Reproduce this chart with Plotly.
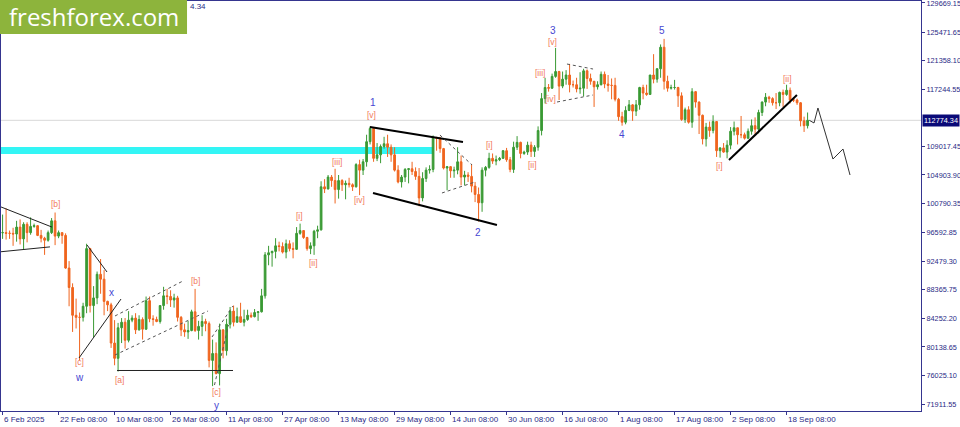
import pandas as pd
import plotly.graph_objects as go

# ---------------- DATA ----------------
first_open = 96600
current_price = 112774.34

# daily candles, 6 Feb 2025 .. 24 Sep 2025
close_feb = [96600, 96500, 96500, 96400, 97400, 95700, 97800, 96600, 97500, 97600, 96200, 95800, 95500, 96600, 98300, 96100, 96600, 96200, 91500, 88700, 84700, 84400, 84400]
high_feb = [99200, 100100, 96900, 97300, 98300, 98500, 98100, 98100, 98800, 97900, 97700, 97000, 96000, 96900, 98700, 99500, 96900, 96500, 96500, 92500, 89300, 87100, 85100]
low_feb = [95700, 95600, 95700, 94700, 95300, 94900, 94100, 95200, 96300, 97300, 96100, 95200, 93400, 95300, 96400, 94800, 95800, 95000, 91400, 86000, 82300, 82800, 78200]

close_mar = [86000, 94300, 86100, 87200, 90600, 89900, 86700, 86200, 80700, 78500, 82900, 83700, 81100, 84000, 84300, 82600, 84100, 82700, 86800, 84200, 84100, 83800, 86100, 87500, 87400, 86900, 87200, 84400, 82600, 82300, 82500]
high_mar = [86500, 95000, 94400, 88900, 91000, 92800, 91200, 86800, 86500, 84000, 83600, 84300, 84300, 85300, 84700, 85000, 84700, 84400, 87400, 87400, 84700, 84500, 86100, 88800, 88500, 88300, 87800, 87500, 84600, 83500, 83900]
low_mar = [83800, 85000, 85100, 81500, 86300, 87800, 84700, 85300, 80000, 77500, 76600, 80700, 79900, 80800, 83700, 82000, 82500, 81200, 82600, 83700, 83200, 83700, 83500, 85500, 86300, 85900, 85800, 83800, 81700, 81600, 81300]

close_apr = [85200, 82500, 83100, 83800, 83500, 78200, 79200, 76300, 82600, 79600, 83400, 85300, 83700, 84500, 83700, 84100, 84700, 84500, 85100, 85200, 87500, 93400, 93700, 93900, 94700, 94600, 93800, 95000, 94300, 94200]
high_apr = [85500, 88500, 83900, 84700, 84200, 83800, 81200, 80800, 83500, 82700, 84200, 85900, 86100, 85800, 86500, 85500, 85500, 85100, 85600, 85300, 88500, 93800, 94700, 94000, 95800, 95300, 95200, 95600, 95500, 95200]
low_apr = [82400, 82300, 81200, 81700, 82400, 77200, 74500, 76200, 74600, 78500, 78900, 82800, 83100, 83900, 83600, 83100, 83900, 84300, 84400, 83900, 85100, 87100, 91900, 91700, 92900, 93900, 93600, 92900, 93900, 92900]

close_may = [96500, 96900, 95900, 94300, 94700, 96800, 97000, 103200, 102900, 104600, 104100, 102800, 104100, 103500, 103700, 103500, 103200, 106400, 105600, 106800, 109700, 111600, 107300, 107800, 109000, 109400, 108900, 107800, 105600, 103900, 104600]
high_may = [97400, 97900, 96900, 96000, 95200, 97000, 97600, 104000, 104300, 104900, 104900, 105800, 104900, 104300, 104100, 104500, 103700, 106600, 107100, 107200, 110700, 111900, 111700, 109500, 109300, 110400, 110700, 109300, 108900, 106300, 104900]
low_may = [94100, 96300, 95700, 94000, 93500, 93400, 95800, 96900, 102300, 102800, 103200, 100800, 101500, 102600, 101400, 103100, 102600, 103100, 102000, 104900, 106100, 109300, 106800, 106900, 106600, 108700, 107500, 106800, 105400, 103700, 103100]

close_jun = [105700, 105800, 105400, 104700, 101600, 104400, 105600, 105700, 110300, 110200, 108700, 105900, 106100, 105500, 105600, 106800, 104600, 104900, 104700, 103300, 102100, 100900, 105600, 106000, 107300, 106900, 107100, 107300, 108400, 107100]
high_jun = [105900, 105900, 106800, 106000, 105900, 105300, 106000, 106300, 110600, 110400, 110400, 108800, 106200, 106200, 106100, 108900, 107700, 105500, 105300, 106500, 103900, 103100, 106000, 106200, 108100, 108000, 107700, 107500, 108500, 108800]
low_jun = [103900, 103700, 104900, 104200, 100400, 101100, 103900, 105100, 105300, 108400, 108100, 105700, 102700, 104500, 104500, 105000, 103400, 103400, 103900, 102400, 101000, 98200, 99600, 104700, 105800, 106500, 106300, 106900, 107200, 106800]

close_jul = [105700, 108900, 109600, 108000, 108200, 109200, 108300, 108900, 111300, 115900, 117500, 117400, 119100, 119800, 117700, 118700, 119300, 117900, 117900, 117300, 117400, 119900, 118800, 118400, 117600, 117900, 119400, 118000, 117800, 117800, 115800]
high_jul = [107500, 109700, 110500, 109700, 108400, 109700, 109700, 109200, 111900, 116700, 118900, 118000, 119500, 123200, 119900, 119800, 120000, 120900, 118500, 118900, 119700, 120200, 120100, 119500, 118300, 118400, 119800, 119800, 119300, 118800, 118900]
low_jul = [105300, 105200, 108500, 107300, 107800, 107800, 107500, 107500, 108400, 110600, 115200, 116900, 117300, 118900, 115700, 117400, 117900, 116800, 117500, 116800, 116600, 116200, 117300, 117900, 114700, 117200, 117800, 117400, 116900, 115800, 115500]

close_aug = [113300, 112500, 114200, 115000, 114100, 115000, 117500, 116700, 116500, 119300, 118700, 120200, 123300, 118400, 117400, 117500, 117500, 116300, 112900, 114300, 112500, 116900, 115400, 113500, 110100, 111800, 111300, 112600, 108400, 108800, 108200]
high_aug = [116000, 114000, 114800, 115700, 115100, 115700, 117600, 117900, 117900, 119300, 122300, 120300, 123700, 124500, 119200, 117900, 118600, 117600, 116800, 114600, 114800, 117400, 117000, 115500, 113600, 112400, 112600, 113500, 112600, 108900, 109500]
low_aug = [112700, 112000, 112200, 114100, 112700, 113400, 114300, 115800, 116300, 116500, 118100, 118200, 118900, 117200, 116900, 117200, 117200, 114700, 112700, 112400, 112300, 111700, 114600, 110800, 109300, 109000, 110400, 110900, 107500, 107400, 108100]

close_sep = [109200, 111200, 111700, 110700, 110700, 110200, 111200, 112000, 111500, 113900, 115400, 116100, 115900, 115300, 115300, 116800, 116500, 117100, 115700, 115700, 115300, 112700, 112000, 112774]
high_sep = [109900, 111800, 112600, 111700, 113400, 111000, 111600, 112900, 113200, 114300, 115500, 116700, 116300, 116100, 116700, 116900, 117200, 117900, 117500, 116100, 115900, 115400, 113300, 113900]
low_sep = [107300, 108600, 110600, 109300, 110200, 110000, 110100, 110700, 110800, 110900, 113400, 114800, 115300, 114900, 114400, 114800, 114700, 116300, 115200, 115400, 115000, 111900, 111100, 111600]

closes = close_feb + close_mar + close_apr + close_may + close_jun + close_jul + close_aug + close_sep
highs = high_feb + high_mar + high_apr + high_may + high_jun + high_jul + high_aug + high_sep
lows = low_feb + low_mar + low_apr + low_may + low_jun + low_jul + low_aug + low_sep
opens = [first_open] + closes[:-1]
dates = pd.date_range("2025-02-06 12:00", periods=len(closes), freq="D")

# forecast path
forecast_dates = ["2025-09-25 00:00", "2025-09-26 08:00", "2025-09-27 11:00", "2025-10-01 18:00", "2025-10-04 15:00", "2025-10-06 15:00"]
forecast_prices = [112774, 112390, 114550, 107200, 108640, 104900]

# trend lines (date pairs, price pairs)
thin_lines = [
    (["2025-02-06 01:00", "2025-02-20 15:00"], [100300, 97400]),
    (["2025-02-06 01:00", "2025-02-20 01:00"], [93850, 94550]),
    (["2025-03-02 15:00", "2025-03-08 08:00"], [94820, 90930]),
    (["2025-02-28 08:00", "2025-03-12 08:00"], [78550, 87040]),
    (["2025-03-11 05:00", "2025-04-13 08:00"], [76750, 76750]),
]
thick_lines = [
    (["2025-05-22 11:00", "2025-06-18 01:00"], [111810, 109650]),
    (["2025-05-23 08:00", "2025-06-27 18:00"], [102310, 97700]),
    (["2025-09-02 01:00", "2025-09-21 11:00"], [107060, 116420]),
]
dotted_lines = [
    (["2025-03-10 15:00", "2025-03-30 01:00"], [84600, 89640]),
    (["2025-03-10 15:00", "2025-04-06 05:00"], [78980, 85320]),
    (["2025-04-07 08:00", "2025-04-13 08:00"], [81570, 86040]),
    (["2025-04-08 01:00", "2025-04-12 01:00"], [74660, 83300]),
    (["2025-06-11 11:00", "2025-06-20 15:00"], [110660, 106340]),
    (["2025-06-12 01:00", "2025-06-21 11:00"], [102310, 103890]),
    (["2025-07-17 18:00", "2025-07-25 05:00"], [120880, 120160]),
    (["2025-07-14 22:00", "2025-07-25 05:00"], [115410, 116420]),
]

zone_start = "2025-02-06 01:09"
zone_end = "2025-06-09 18:00"
zone_low, zone_high = 107924, 108932

blue_labels = [
    ("w", "2025-02-28 11:00", 75670), ("x", "2025-03-09 18:00", 87910),
    ("y", "2025-04-08 18:00", 71640), ("1", "2025-05-23 08:00", 115270),
    ("2", "2025-06-22 08:00", 96690), ("3", "2025-07-13 18:00", 125780),
    ("4", "2025-08-02 11:00", 110800), ("5", "2025-08-13 22:00", 125780),
]
bracket_labels = [
    ("[b]", "2025-02-21 18:00", 100720), ("[c]", "2025-02-28 08:00", 77970),
    ("[a]", "2025-03-11 22:00", 75380), ("[b]", "2025-04-02 18:00", 89640),
    ("[c]", "2025-04-08 15:00", 73650), ("[i]", "2025-05-02 05:00", 99000),
    ("[ii]", "2025-05-06 05:00", 92230), ("[iii]", "2025-05-12 22:00", 106770),
    ("[iv]", "2025-05-19 08:00", 101300), ("[v]", "2025-05-23 01:00", 113540),
    ("[i]", "2025-06-25 18:00", 109220), ("[ii]", "2025-07-08 01:00", 106340),
    ("[iii]", "2025-07-10 01:00", 119590), ("[iv]", "2025-07-12 22:00", 115840),
    ("[v]", "2025-07-13 18:00", 124050), ("[i]", "2025-08-30 05:00", 106200),
    ("[ii]", "2025-09-18 15:00", 118720),
]

y_tick_values = [129669.15, 125471.65, 121358.10, 117244.55, 109017.45, 104903.90, 100790.35,
                 96592.85, 92479.30, 88365.75, 84252.20, 80138.65, 76025.10, 71911.55]
x_tick_dates = ["2025-02-06 08:00", "2025-02-22 08:00", "2025-03-10 08:00", "2025-03-26 08:00",
                "2025-04-11 08:00", "2025-04-27 08:00", "2025-05-13 08:00", "2025-05-29 08:00",
                "2025-06-14 08:00", "2025-06-30 08:00", "2025-07-16 08:00", "2025-08-01 08:00",
                "2025-08-17 08:00", "2025-09-02 08:00", "2025-09-18 08:00"]
x_tick_labels = ["6 Feb 2025", "22 Feb 08:00", "10 Mar 08:00", "26 Mar 08:00", "11 Apr 08:00",
                 "27 Apr 08:00", "13 May 08:00", "29 May 08:00", "14 Jun 08:00", "30 Jun 08:00",
                 "16 Jul 08:00", "1 Aug 08:00", "17 Aug 08:00", "2 Sep 08:00", "18 Sep 08:00"]

# ---------------- STYLE ----------------
NAVY = "#35358f"
TXT = "#2a2a86"
FONT = "Liberation Sans"

fig = go.Figure()
fig.add_trace(go.Candlestick(
    x=dates, open=opens, high=highs, low=lows, close=closes,
    increasing=dict(line=dict(color="#3a9a34", width=1), fillcolor="#3a9a34"),
    decreasing=dict(line=dict(color="#f0641e", width=1), fillcolor="#f0641e"),
    whiskerwidth=0, showlegend=False, hoverinfo="skip"))

for xs, ys in thin_lines:
    fig.add_trace(go.Scatter(x=xs, y=ys, mode="lines", line=dict(color="#222222", width=1),
                             showlegend=False, hoverinfo="skip"))
for xs, ys in thick_lines:
    fig.add_trace(go.Scatter(x=xs, y=ys, mode="lines", line=dict(color="#000000", width=2),
                             showlegend=False, hoverinfo="skip"))
for xs, ys in dotted_lines:
    fig.add_trace(go.Scatter(x=xs, y=ys, mode="lines", line=dict(color="#555555", width=1, dash="dot"),
                             showlegend=False, hoverinfo="skip"))
fig.add_trace(go.Scatter(x=forecast_dates, y=forecast_prices, mode="lines",
                         line=dict(color="#333333", width=1), showlegend=False, hoverinfo="skip"))

shapes = [
    dict(type="rect", xref="x", x0=zone_start, x1=zone_end, yref="y", y0=zone_low, y1=zone_high,
         fillcolor="#33f5f5", line=dict(width=0), layer="below"),
    dict(type="line", xref="paper", x0=0, x1=1, yref="y", y0=current_price, y1=current_price,
         line=dict(color="#d8d8d8", width=1), layer="below"),
    dict(type="rect", xref="paper", x0=-0.0011, x1=0.2022, yref="paper", y0=0.9195, y1=1.0025,
         fillcolor="#8db43c", line=dict(width=0), layer="above"),
]

annotations = []
for t, d, p in blue_labels:
    annotations.append(dict(x=d, y=p, xref="x", yref="y", text=t, showarrow=False,
                            xanchor="center", yanchor="middle",
                            font=dict(family=FONT, size=10, color="#4646d2")))
for t, d, p in bracket_labels:
    annotations.append(dict(x=d, y=p, xref="x", yref="y", text=t, showarrow=False,
                            xanchor="center", yanchor="middle",
                            font=dict(family=FONT, size=8.5, color="#f27a60")))
for d, t in zip(x_tick_dates, x_tick_labels):
    annotations.append(dict(x=d, y=0, xref="x", yref="paper", text=t, showarrow=False,
                            xanchor="left", yanchor="top", yshift=-2, xshift=0,
                            font=dict(family=FONT, size=8, color=TXT)))
annotations.append(dict(x=1, y=current_price, xref="paper", yref="y", text=f"{current_price:.2f}",
                        showarrow=False, xanchor="left", yanchor="middle", xshift=1,
                        bgcolor="#0a0a78", borderpad=1,
                        font=dict(family=FONT, size=7.3, color="#ffffff")))
annotations.append(dict(x=0.1011, y=0.961, xref="paper", yref="paper", text="freshforex.com",
                        showarrow=False, xanchor="center", yanchor="middle",
                        font=dict(family="Open Sans", size=24, color="#ffffff")))
annotations.append(dict(x=0.2033, y=0.9878, xref="paper", yref="paper", text="4.34",
                        showarrow=False, xanchor="left", yanchor="middle",
                        font=dict(family=FONT, size=8, color=TXT)))

fig.update_layout(
    width=960, height=427,
    margin=dict(l=1, r=39, t=1, b=16, autoexpand=False),
    paper_bgcolor="white", plot_bgcolor="white",
    shapes=shapes, annotations=annotations,
    xaxis=dict(type="date", range=["2025-02-06 01:09", "2025-10-26 21:42"],
               tickvals=x_tick_dates, showticklabels=False, ticks="outside", ticklen=3,
               tickcolor=NAVY, showline=True, linecolor=NAVY, mirror=True, showgrid=False,
               zeroline=False, automargin=False, rangeslider=dict(visible=False)),
    yaxis=dict(side="right", range=[70916, 129956], tickvals=y_tick_values,
               ticktext=[f"{v:.2f}" for v in y_tick_values], ticks="outside", ticklen=3,
               tickcolor=NAVY, showline=True, linecolor=NAVY, mirror=True, showgrid=False,
               zeroline=False, automargin=False, ticklabeloverflow="allow",
               tickfont=dict(family=FONT, size=7.3, color=TXT)),
)

fig.write_html("out.html", config={"displayModeBar": False},
               post_script="document.body.style.margin='0';document.body.style.overflow='hidden';")
